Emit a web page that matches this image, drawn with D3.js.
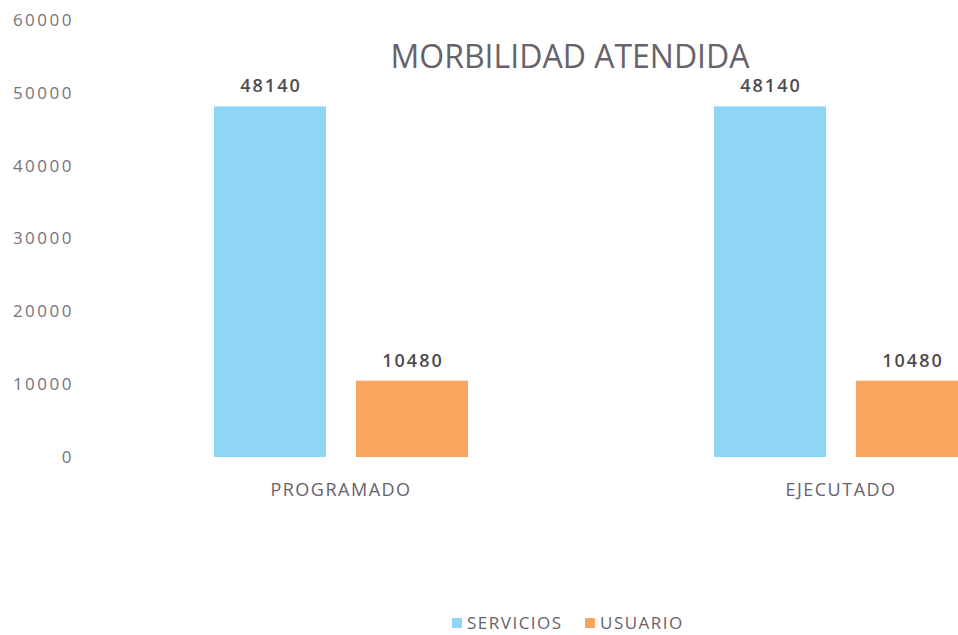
<!DOCTYPE html>
<html>
<head>
  <script src="https://cdn.jsdelivr.net/npm/d3@7"></script>
  <style>
    body { margin: 0; background: #fff; }
    .chart text { font-family: "Open Sans", "Liberation Sans", sans-serif; }
    .axis text { fill: #77727b; font-size: 17px; letter-spacing: 2.5px; }
    .cat { fill: #67626b; font-size: 18px; letter-spacing: 1.5px; }
    .val { fill: #4e4a52; font-size: 18px; font-weight: 600; letter-spacing: 2px; }
    .title { fill: #67626b; font-size: 32px; }
    .legend text { fill: #67626b; font-size: 17px; letter-spacing: 1.5px; }
  </style>
</head>
<body>
  <svg class="chart"></svg>
  <script>
    var categories = ['PROGRAMADO', 'EJECUTADO'];
    var seriesNames = ['SERVICIOS', 'USUARIO'];
    var servicios = [48140, 48140];
    var usuario = [10480, 10480];
    var yTicks = [0, 10000, 20000, 30000, 40000, 50000, 60000];

    var colors = { SERVICIOS: '#8fd6f6', USUARIO: '#f9a560' };
    var width = 958, height = 635;
    var baseY = 457, topY = 20;

    var svg = d3.select('.chart')
      .attr('width', width)
      .attr('height', height);

    var data = categories.map(function (c, i) {
      return { cat: c, values: [
        { key: 'SERVICIOS', value: servicios[i] },
        { key: 'USUARIO', value: usuario[i] }
      ] };
    });

    var x0 = d3.scaleBand()
      .domain(categories)
      .range([91, 1091])
      .paddingInner(0.492)
      .paddingOuter(0.246);
    var x1 = d3.scaleBand()
      .domain(seriesNames)
      .range([0, x0.bandwidth()])
      .paddingInner(0.211);
    var y = d3.scaleLinear()
      .domain([0, 60000])
      .range([baseY, topY]);

    // y axis labels only, no line or ticks
    var yAxis = svg.append('g')
      .attr('class', 'axis')
      .attr('transform', 'translate(74,0)')
      .call(d3.axisLeft(y).tickValues(yTicks).tickSize(0).tickPadding(0).tickFormat(d3.format('d')));
    yAxis.select('.domain').remove();

    svg.append('text')
      .attr('class', 'title')
      .attr('x', 570)
      .attr('y', 68)
      .attr('text-anchor', 'middle')
      .text('MORBILIDAD ATENDIDA');

    var group = svg.selectAll('.grp')
      .data(data)
      .enter()
      .append('g')
      .attr('class', 'grp')
      .attr('transform', function (d) { return 'translate(' + x0(d.cat) + ',0)'; });

    group.selectAll('rect')
      .data(function (d) { return d.values; })
      .enter()
      .append('rect')
      .attr('x', function (d) { return x1(d.key); })
      .attr('y', function (d) { return y(d.value); })
      .attr('width', x1.bandwidth())
      .attr('height', function (d) { return y(0) - y(d.value); })
      .attr('fill', function (d) { return colors[d.key]; });

    group.selectAll('.val')
      .data(function (d) { return d.values; })
      .enter()
      .append('text')
      .attr('class', 'val')
      // +1 compensates the trailing letter-spacing
      .attr('x', function (d) { return x1(d.key) + x1.bandwidth() / 2 + 1; })
      .attr('y', function (d) { return y(d.value) - 14; })
      .attr('text-anchor', 'middle')
      .text(function (d) { return d.value; });

    svg.selectAll('.cat')
      .data(categories)
      .enter()
      .append('text')
      .attr('class', 'cat')
      .attr('x', function (d) { return x0(d) + x0.bandwidth() / 2; })
      .attr('y', 496)
      .attr('text-anchor', 'middle')
      .text(function (d) { return d; });

    // legend
    var legend = svg.append('g').attr('class', 'legend');
    var legX = [452, 585];
    seriesNames.forEach(function (s, i) {
      legend.append('rect')
        .attr('x', legX[i])
        .attr('y', 618)
        .attr('width', 10)
        .attr('height', 10)
        .attr('fill', colors[s]);
      legend.append('text')
        .attr('x', legX[i] + 15)
        .attr('y', 629)
        .text(s);
    });
  </script>
</body>
</html>
